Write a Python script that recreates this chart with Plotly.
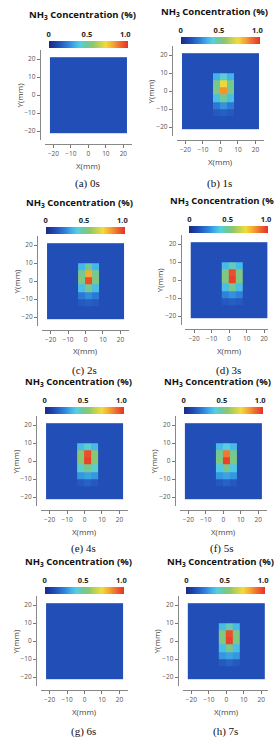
import plotly.graph_objects as go

# ---------------- data ----------------
panel_letters = ["a", "b", "c", "d", "e", "f", "g", "h"]
panel_times = ["0s", "1s", "2s", "3s", "4s", "5s", "6s", "7s"]

# sensor grid cell edges (mm)
x_edges = [-22, -16, -12, -8, -4, 0, 4, 8, 12, 16, 22]
y_edges = [-21, -18, -14, -10, -6, -2, 2, 6, 10, 14, 18, 21]

background_level = 0.12
# plume block: cell centres (mm)
block_x = [-2, 2, 6]
block_y = [8, 4, 0, -4, -8, -12]   # top to bottom

# plume concentrations per panel (rows top->bottom, cols left->right); None = no plume
plume_b = [[0.33, 0.42, 0.33], [0.50, 0.70, 0.50], [0.52, 0.84, 0.50],
           [0.36, 0.48, 0.36], [0.22, 0.27, 0.22], [0.15, 0.16, 0.15]]
plume_c = [[0.34, 0.48, 0.34], [0.50, 0.80, 0.50], [0.52, 0.95, 0.52],
           [0.36, 0.50, 0.36], [0.22, 0.26, 0.22], [0.15, 0.16, 0.15]]
plume_d = [[0.35, 0.44, 0.35], [0.52, 0.95, 0.52], [0.52, 0.97, 0.52],
           [0.36, 0.50, 0.36], [0.24, 0.27, 0.24], [0.15, 0.16, 0.15]]
plume_e = [[0.35, 0.42, 0.35], [0.55, 0.95, 0.55], [0.55, 0.97, 0.55],
           [0.42, 0.50, 0.42], [0.28, 0.30, 0.28], [0.15, 0.17, 0.15]]
plume_f = [[0.35, 0.40, 0.35], [0.50, 0.88, 0.50], [0.52, 0.97, 0.52],
           [0.38, 0.50, 0.38], [0.28, 0.30, 0.28], [0.15, 0.17, 0.15]]
plume_h = [[0.35, 0.45, 0.35], [0.52, 0.95, 0.52], [0.52, 0.97, 0.52],
           [0.36, 0.50, 0.36], [0.28, 0.30, 0.28], [0.15, 0.17, 0.15]]
plumes = [None, plume_b, plume_c, plume_d, plume_e, plume_f, None, plume_h]

axis_ticks = [-20, -10, 0, 10, 20]
cbar_ticks = [0, 0.5, 1.0]
cbar_ticktext = ["0", "0.5", "1.0"]
x_title = "X(mm)"
y_title = "Y(mm)"

colorscale = [
    [0.0, "#1a2a80"], [0.10, "#1f46b0"], [0.14, "#2455bd"], [0.25, "#2f86dc"],
    [0.33, "#42b2ea"], [0.40, "#55cfe0"], [0.47, "#6cc9a0"], [0.55, "#8ac772"],
    [0.65, "#c8d44c"], [0.72, "#f2dc3c"], [0.82, "#f5a030"], [0.90, "#f06a2e"],
    [1.0, "#e8302a"],
]

# ---------------- layout helpers ----------------
W, H = 274, 740
def px(x):
    return x / W
def py(y):
    return 1 - y / H

def clipped_axis(a, b, lo=-25.0, hi=25.0):
    """pixel span [a,b] maps to [lo,hi]; clip to the page and adjust range."""
    scale = (hi - lo) / (b - a)
    a2, b2 = max(a, 0.0), min(b, W - 0.5)
    return [px(a2), px(b2)], [lo + (a2 - a) * scale, lo + (b2 - a) * scale]

# panel offsets (pixels) relative to panel (a)
offsets = [(0, 0), (136, -4), (-3, 186), (145, 185), (-4, 366), (139, 366), (-4, 546), (142, 546)]
caption_y = [183, 183, 370, 370, 548, 548, 731, 731]
title_y = [15, 12, 203, 201, 382, 382, 562, 562]

SANS = "Open Sans"
SERIF = "Liberation Serif"

fig = go.Figure()
layout = dict(
    width=W, height=H, margin=dict(l=0, r=0, t=0, b=0),
    paper_bgcolor="white", plot_bgcolor="white", showlegend=False,
    annotations=[],
)

xc_edges = [(x_edges[i] + x_edges[i + 1]) / 2 for i in range(len(x_edges) - 1)]
yc_edges = [(y_edges[i] + y_edges[i + 1]) / 2 for i in range(len(y_edges) - 1)]

def note(text, x, y, font, angle=0):
    layout["annotations"].append(dict(
        text=text, x=px(x), y=py(y), xref="paper", yref="paper",
        xanchor="center", yanchor="middle", showarrow=False, textangle=angle, font=font,
    ))

for i in range(8):
    dx, dy = offsets[i]
    z = [[background_level for _ in xc_edges] for _ in yc_edges]
    if plumes[i] is not None:
        for r, yv in enumerate(block_y):
            for c, xv in enumerate(block_x):
                ri = min(range(len(yc_edges)), key=lambda k: abs(yc_edges[k] - yv))
                ci = min(range(len(xc_edges)), key=lambda k: abs(xc_edges[k] - xv))
                z[ri][ci] = plumes[i][r][c]
    n = i + 1
    xa = "x" if n == 1 else f"x{n}"
    ya = "y" if n == 1 else f"y{n}"
    fig.add_trace(go.Heatmap(
        x=x_edges, y=y_edges, z=z, xaxis=xa, yaxis=ya,
        colorscale=colorscale, zmin=0, zmax=1, hoverinfo="skip",
        colorbar=dict(
            orientation="h", x=px(48 + dx), xanchor="left",
            y=py(41 + dy), yanchor="top", lenmode="pixels", len=79,
            thickness=7, xpad=0, ypad=0, outlinewidth=0,
            showticklabels=False, ticks="",
        ),
    ))
    # empty trace on its own axis pair so that the colour-bar label axis is drawn
    m = 8 + n
    fig.add_trace(go.Scatter(x=[], y=[], xaxis=f"x{m}", yaxis=f"y{m}",
                             hoverinfo="skip", showlegend=False))
    xk = "xaxis" if n == 1 else f"xaxis{n}"
    yk = "yaxis" if n == 1 else f"yaxis{n}"
    xdom, xrng = clipped_axis(44 + dx, 134 + dx)
    layout[xk] = dict(
        domain=xdom, range=xrng,
        anchor="free", position=py(144 + dy),
        tickvals=axis_ticks, ticks="outside", ticklen=3, tickcolor="#777",
        showline=True, linecolor="#888", linewidth=1, showgrid=False, zeroline=False,
        tickfont=dict(family=SANS, size=6.5, color="#555"),
    )
    layout[yk] = dict(
        domain=[py(140 + dy), py(50 + dy)], range=[-25, 25],
        anchor="free", position=px(39 + dx),
        tickvals=axis_ticks, ticks="outside", ticklen=3, tickcolor="#777",
        showline=True, linecolor="#888", linewidth=1, showgrid=False, zeroline=False,
        tickfont=dict(family=SANS, size=6.5, color="#555"),
    )
    cdom, crng = clipped_axis(48 + dx, 127 + dx, 0.0, 1.0)
    layout[f"xaxis{m}"] = dict(
        domain=cdom, range=crng,
        anchor="free", position=py(38 + dy), side="top",
        tickvals=cbar_ticks, ticktext=cbar_ticktext, ticks="",
        showline=False, showgrid=False, zeroline=False,
        tickfont=dict(family=SANS, size=7.5, color="#222", weight="bold"),
    )
    layout[f"yaxis{m}"] = dict(
        domain=[py(39 + dy), py(30 + dy)], range=[0, 1],
        anchor="free", position=px(48 + dx), visible=False,
    )
    axis_font = dict(family=SANS, size=8, color="#444")
    note(x_title, 89 + dx, 165 + dy, axis_font)
    note(y_title, 17 + dx, 95 + dy, axis_font, angle=-90)
    note("<b>NH<sub>3</sub> Concentration (%)</b>", 83 + dx, title_y[i],
         dict(family=SANS, size=9.5, color="#111"))
    note(f"({panel_letters[i]}) {panel_times[i]}", 88 + dx, caption_y[i],
         dict(family=SERIF, size=11, color="#111"))

fig.update_layout(**layout)
fig.write_html("out.html")
